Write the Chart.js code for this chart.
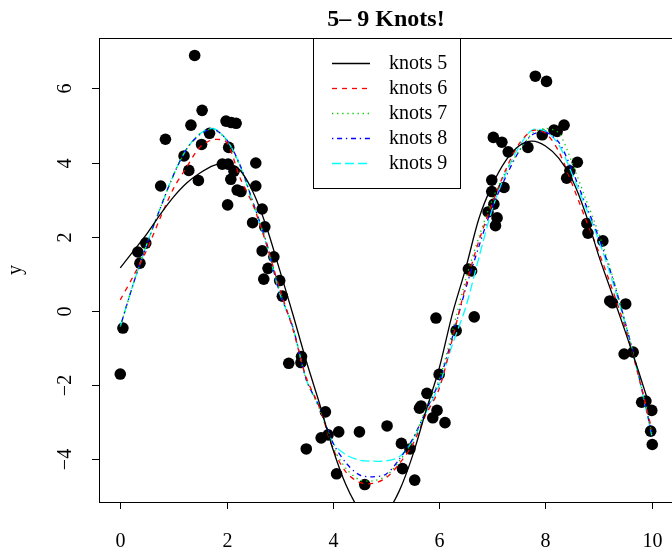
<!DOCTYPE html>
<html>
<head>
<meta charset="utf-8">
<script src="https://cdn.jsdelivr.net/npm/chart.js@4"></script>
<style>
  html, body { margin: 0; padding: 0; background: #fff; overflow: hidden; }
  #wrap { width: 700px; height: 550px; }
</style>
</head>
<body>
<div id="wrap"><canvas id="myChart" width="700" height="550"></canvas></div>
<script>
// observed points
const pointsX = [0.00,0.05,0.33,0.37,0.48,0.76,0.85,1.20,1.29,1.33,1.40,1.47,1.53,1.54,1.68,1.92,1.99,2.02,2.03,2.04,
  2.08,2.09,2.14,2.18,2.20,2.27,2.49,2.55,2.55,2.67,2.72,2.67,2.70,2.78,2.89,3.00,3.05,3.17,3.41,3.40,
  3.50,3.78,3.86,3.91,4.07,4.11,4.50,4.60,5.02,5.29,5.31,5.45,5.54,5.63,5.66,5.77,5.88,5.96,6.11,6.00,
  5.94,6.32,6.55,6.61,6.66,6.92,6.99,6.99,7.03,7.09,7.06,7.02,7.18,7.22,7.30,7.67,7.81,8.02,7.94,8.16,
  8.22,8.35,8.40,8.46,8.60,8.78,8.80,9.08,9.21,9.26,9.51,9.48,9.65,9.81,9.89,10.00,9.98,10.01];
const pointsY = [-1.70,-0.46,1.59,1.29,1.83,3.37,4.63,4.18,3.79,5.01,6.89,3.52,4.49,5.41,4.79,3.96,5.12,2.86,3.96,4.41,
  3.55,5.08,3.77,5.06,3.26,3.22,2.38,3.99,3.37,2.75,2.27,1.62,0.86,1.15,1.46,0.82,0.40,-1.41,-1.23,-1.39,
  -3.72,-3.42,-2.72,-3.34,-4.39,-3.26,-3.26,-4.68,-3.10,-3.57,-4.25,-3.72,-4.56,-2.62,-2.56,-2.22,-2.88,-2.68,-3.01,-1.71,
  -0.19,-0.53,1.13,1.08,-0.16,2.67,3.53,3.22,2.88,2.51,2.30,4.68,4.55,3.33,4.29,4.41,6.33,6.19,4.75,4.88,
  4.84,5.01,3.58,3.78,4.01,2.36,2.10,1.89,0.27,0.22,0.19,-1.16,-1.11,-2.46,-2.43,-2.68,-3.24,-3.60];

const curveX = [0,0.25,0.5,0.75,1,1.25,1.5,1.75,2,2.25,2.5,2.75,3,3.25,3.5,3.75,4,4.25,4.5,4.75,
  5,5.25,5.5,5.75,6,6.25,6.5,6.75,7,7.25,7.5,7.75,8,8.25,8.5,8.75,9,9.25,9.5,9.75,10];
const knots5 = [1.16,1.62,2.08,2.60,3.07,3.45,3.72,3.92,3.98,3.80,3.20,2.27,1.10,-0.10,-1.35,-2.50,-3.72,-4.70,-5.35,-5.60,
  -5.45,-4.85,-3.90,-2.70,-1.55,-0.07,1.15,2.50,3.40,4.05,4.45,4.58,4.45,4.12,3.55,2.65,1.50,0.48,-0.55,-1.62,-2.75];
const knots6 = [0.30,0.95,1.65,2.50,3.30,3.88,4.42,4.62,4.55,3.60,2.85,1.80,0.60,-0.50,-1.80,-2.60,-3.70,-4.35,-4.62,-4.65,
  -4.50,-4.12,-3.60,-2.80,-2.10,-0.75,0.68,1.90,2.90,3.80,4.50,4.86,4.80,4.30,3.43,2.50,1.60,0.62,-0.45,-1.75,-3.20];
const knots7 = [-0.42,0.75,1.80,2.76,3.66,4.37,4.78,4.90,4.60,3.90,2.90,1.85,0.55,-0.45,-1.85,-2.65,-3.65,-4.25,-4.55,-4.58,
  -4.45,-4.05,-3.50,-2.65,-1.85,-0.55,0.85,2.00,3.00,3.75,4.30,4.78,4.92,4.80,4.00,3.05,2.10,1.00,-0.30,-1.70,-3.30];
const knots8 = [-0.42,0.75,1.80,2.76,3.66,4.37,4.76,4.90,4.62,3.95,2.92,1.85,0.50,-0.45,-1.85,-2.60,-3.55,-4.10,-4.42,-4.47,
  -4.40,-4.00,-3.45,-2.70,-1.90,-0.70,0.60,1.75,2.80,3.60,4.30,4.75,4.82,4.55,3.80,2.90,2.00,0.95,-0.30,-1.70,-3.30];
const knots9 = [-0.42,0.75,1.80,2.76,3.66,4.37,4.78,4.92,4.62,3.93,2.90,1.80,0.48,-0.45,-1.85,-2.60,-3.55,-3.88,-4.02,-4.05,
  -4.04,-3.93,-3.50,-2.75,-2.00,-0.90,0.10,1.45,2.75,3.70,4.42,4.88,4.85,4.48,3.70,2.82,1.92,0.85,-0.35,-1.75,-3.35];

const xTicks = [0, 2, 4, 6, 8, 10];
const yTicks = [-4, -2, 0, 2, 4, 6];
const legendLabels = ["knots 5", "knots 6", "knots 7", "knots 8", "knots 9"];
const lineColors = ["#000000", "#ff0000", "#00cd00", "#0000ff", "#00ffff"];
const lineDashes = [[], [5, 5], [1.3, 3.8], [1.3, 3.8, 5, 3.8], [9, 4]];
const curves = [knots5, knots6, knots7, knots8, knots9];

const serif = '"Liberation Serif", "Times New Roman", serif';

function xy(xs, ys) {
  return xs.map((v, i) => ({ x: v, y: ys[i] }));
}

const lineSets = curves.map((c, i) => ({
  type: "line",
  label: legendLabels[i],
  data: xy(curveX, c),
  borderColor: lineColors[i],
  borderDash: lineDashes[i],
  borderWidth: 1.3,
  pointRadius: 0,
  tension: 0.3,
  fill: false,
  order: 0
}));

// R style box, axes, title and legend
const rBase = {
  id: "rBase",
  afterDraw(chart) {
    const { ctx, chartArea: a, scales: { x, y } } = chart;
    ctx.save();
    ctx.strokeStyle = "#000";
    ctx.fillStyle = "#000";
    ctx.lineWidth = 1;
    ctx.setLineDash([]);
    ctx.strokeRect(Math.round(a.left) + 0.5, Math.round(a.top) + 0.5,
      Math.round(a.right - a.left), Math.round(a.bottom - a.top));

    ctx.font = "20px " + serif;
    ctx.textAlign = "center";
    ctx.textBaseline = "middle";
    xTicks.forEach(v => {
      const px = Math.round(x.getPixelForValue(v)) + 0.5;
      ctx.beginPath();
      ctx.moveTo(px, a.bottom);
      ctx.lineTo(px, a.bottom + 7);
      ctx.stroke();
      ctx.fillText(String(v), px, 542);
    });
    yTicks.forEach(v => {
      const py = Math.round(y.getPixelForValue(v)) + 0.5;
      ctx.beginPath();
      ctx.moveTo(a.left - 7, py);
      ctx.lineTo(a.left, py);
      ctx.stroke();
      ctx.save();
      ctx.translate(66, py);
      ctx.rotate(-Math.PI / 2);
      ctx.fillText(String(v).replace("-", "\u2212"), 0, 0);
      ctx.restore();
    });

    // y label
    ctx.save();
    ctx.translate(16, (a.top + a.bottom) / 2);
    ctx.rotate(-Math.PI / 2);
    ctx.fillText("y", 0, 0);
    ctx.restore();

    // title
    ctx.font = "bold 24px " + serif;
    ctx.fillText("5\u2013 9 Knots!", (a.left + a.right) / 2, 20);

    // legend
    ctx.fillStyle = "#fff";
    ctx.fillRect(313, 38, 147, 151);
    ctx.strokeRect(313.5, 38.5, 147, 150);
    ctx.font = "20px " + serif;
    ctx.textAlign = "left";
    legendLabels.forEach((t, i) => {
      const ly = 63.5 + i * 25;
      ctx.strokeStyle = lineColors[i];
      ctx.lineWidth = 1.3;
      ctx.setLineDash(lineDashes[i]);
      ctx.beginPath();
      ctx.moveTo(332, ly);
      ctx.lineTo(370, ly);
      ctx.stroke();
      ctx.fillStyle = "#000";
      ctx.fillText(t, 389, ly);
    });
    ctx.restore();
  }
};

new Chart("myChart", {
  type: "scatter",
  data: {
    datasets: [
      ...lineSets,
      {
        type: "scatter",
        label: "data",
        data: xy(pointsX, pointsY),
        backgroundColor: "#000",
        borderWidth: 0,
        pointRadius: 5.8,
        order: 1
      }
    ]
  },
  options: {
    responsive: false,
    animation: false,
    layout: { padding: { left: 99, top: 38, right: 27, bottom: 48 } },
    plugins: {
      legend: { display: false },
      title: { display: false },
      tooltip: { enabled: false }
    },
    scales: {
      x: { type: "linear", min: -0.4, max: 10.4, display: false },
      y: { type: "linear", min: -5.15, max: 7.36, display: false }
    }
  },
  plugins: [rBase]
});
</script>
</body>
</html>
